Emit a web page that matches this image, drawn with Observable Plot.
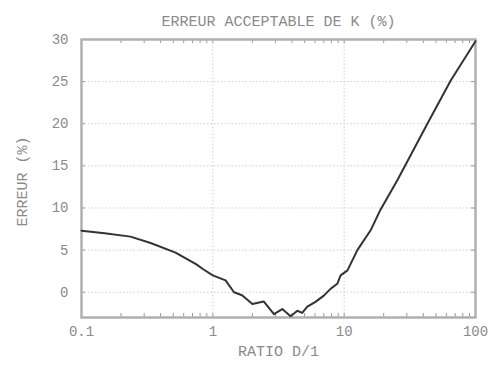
<!DOCTYPE html>
<html>
<head>
<meta charset="utf-8">
<script src="https://cdn.jsdelivr.net/npm/d3@7"></script>
<script src="https://cdn.jsdelivr.net/npm/@observablehq/plot@0.6"></script>
<style>
  html, body { margin: 0; padding: 0; background: #fff; }
</style>
</head>
<body>
<div id="chart"></div>
<script>
const ratio = [0.1, 0.15, 0.236, 0.336, 0.52, 0.75, 0.85, 1.0, 1.25, 1.45, 1.67, 2.0, 2.44, 2.92, 3.38, 3.91, 4.4, 4.79, 5.24, 6.05, 7.0, 7.87, 8.86, 9.4, 10.6, 12.6, 15.9, 18.9, 25.4, 34, 43, 64.6, 100];
const erreur = [7.3, 7.0, 6.6, 5.85, 4.7, 3.3, 2.7, 2.0, 1.4, 0.0, -0.36, -1.4, -1.1, -2.6, -2.0, -2.85, -2.2, -2.45, -1.7, -1.15, -0.4, 0.4, 1.0, 2.0, 2.6, 5.0, 7.35, 9.8, 13.3, 17.0, 20.0, 25.1, 29.8];
const xTicks = [0.1, 1, 10, 100];
const xMinor = [0.2,0.3,0.4,0.5,0.6,0.7,0.8,0.9,2,3,4,5,6,7,8,9,20,30,40,50,60,70,80,90];
const yTicks = [0, 5, 10, 15, 20, 25, 30];
const yGrid = [0, 5, 10, 15, 20, 25];
const title = "ERREUR ACCEPTABLE DE K (%)";
const xLabel = "RATIO D/1";
const yLabel = "ERREUR (%)";

const data = ratio.map((r, i) => ({r, e: erreur[i]}));
const gridC = "#cfcfcf";
const tickC = "#999";
const textC = "#8a8a8a";

const chart = Plot.plot({
  width: 490,
  height: 368,
  marginLeft: 81,
  marginRight: 15,
  marginTop: 39,
  marginBottom: 51,
  style: {fontFamily: "'Liberation Mono', 'DejaVu Sans Mono', monospace", fontSize: "14px", color: textC, background: "#fff"},
  x: {type: "log", domain: [0.1, 100]},
  y: {domain: [-3, 30]},
  marks: [
    Plot.ruleX([1, 10], {stroke: gridC, strokeDasharray: "1.5,2"}),
    Plot.ruleY(yGrid, {stroke: gridC, strokeDasharray: "1.5,2"}),
    Plot.tickX(xMinor.concat(xTicks), {x: d => d, insetTop: 274, stroke: tickC}),
    Plot.tickX(xMinor.concat(xTicks), {x: d => d, insetBottom: 274, stroke: tickC}),
    Plot.tickY(yTicks, {y: d => d, insetRight: 390, stroke: tickC}),
    Plot.tickY(yTicks, {y: d => d, insetLeft: 390, stroke: tickC}),
    Plot.frame({stroke: "#b0b0b0", strokeWidth: 2.5}),
    Plot.line(data, {x: "r", y: "e", stroke: "#333", strokeWidth: 2}),
    Plot.axisX({ticks: xTicks, tickFormat: d => String(d), tickSize: 0, tickPadding: 9, label: null, fill: textC}),
    Plot.axisY({ticks: yTicks, tickSize: 0, tickPadding: 13, label: null, fill: textC}),
    Plot.text([title], {frameAnchor: "top", dy: -24, fontSize: 15, fill: textC}),
    Plot.text([xLabel], {frameAnchor: "bottom", dy: 38, fontSize: 15, fill: textC}),
    Plot.text([yLabel], {frameAnchor: "left", dx: -59, dy: 3, rotate: -90, textAnchor: "middle", fontSize: 15, fill: textC})
  ]
});
document.getElementById("chart").append(chart);
</script>
</body>
</html>
